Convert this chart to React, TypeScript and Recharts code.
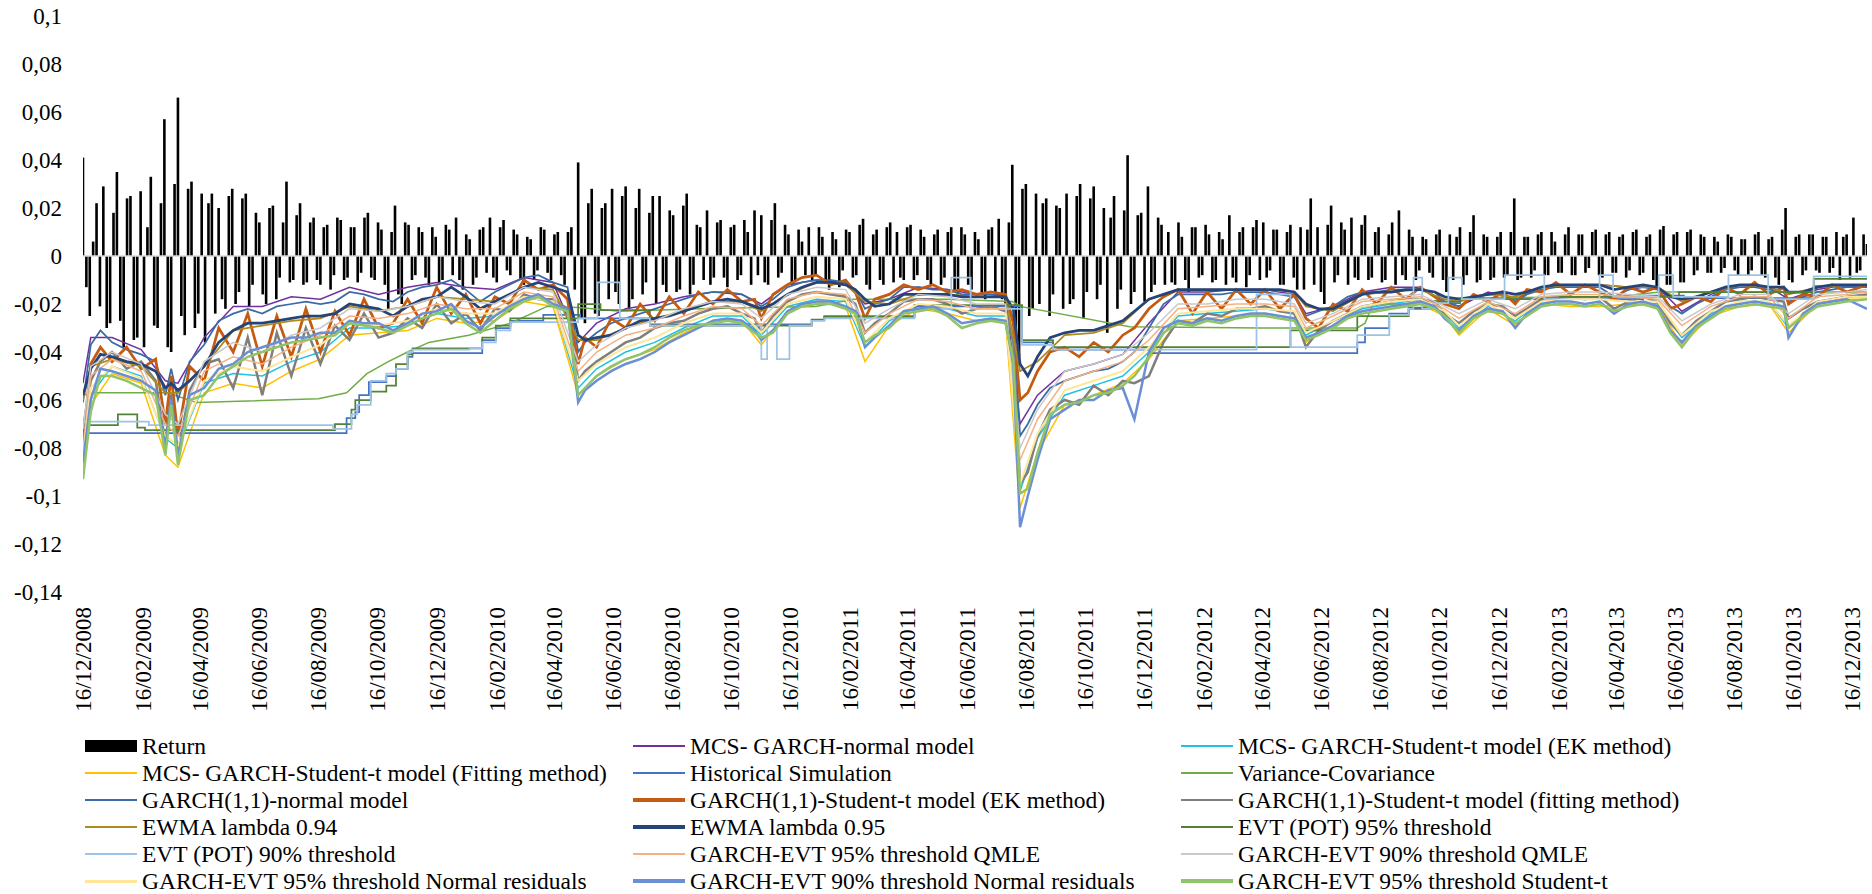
import React from 'react';
import { ComposedChart, Bar, Line, XAxis, YAxis, ReferenceLine } from 'recharts';

const FONT = '"Liberation Serif", "Times New Roman", serif';
const START = Date.UTC(2008, 11, 16);
const DAY_MS = 86400000;
const dayOf = (label: string) => {
  const [dd, mm, yyyy] = label.split('/').map(Number);
  return Math.round((Date.UTC(yyyy, mm - 1, dd) - START) / DAY_MS);
};
const LAST_DAY = dayOf('31/12/2013');

const X_TICK_LABELS = [
  '16/12/2008', '16/02/2009', '16/04/2009', '16/06/2009', '16/08/2009', '16/10/2009',
  '16/12/2009', '16/02/2010', '16/04/2010', '16/06/2010', '16/08/2010', '16/10/2010',
  '16/12/2010', '16/02/2011', '16/04/2011', '16/06/2011', '16/08/2011', '16/10/2011',
  '16/12/2011', '16/02/2012', '16/04/2012', '16/06/2012', '16/08/2012', '16/10/2012',
  '16/12/2012', '16/02/2013', '16/04/2013', '16/06/2013', '16/08/2013', '16/10/2013',
  '16/12/2013',
];
const TICK_DAYS = X_TICK_LABELS.map(dayOf);
const Y_TICKS = [0.1, 0.08, 0.06, 0.04, 0.02, 0, -0.02, -0.04, -0.06, -0.08, -0.1, -0.12, -0.14];

// returns sampled twice a week: start-of-week and mid-week values
const RETURN_STEP_DAYS = 7;
const MIDWEEK_OFFSET = 3.5;
const RETURNS = [
  0.041, -0.025, 0.022, 0.029, -0.028, 0.035, -0.038, 0.025, -0.034, -0.038,
  0.033, -0.030, 0.057, -0.040, 0.066, -0.033, 0.031, -0.024, -0.036, 0.026,
  0.020, -0.022, 0.028, -0.015, 0.026, -0.012, 0.014, -0.020, 0.021, -0.009,
  0.031, -0.010, 0.022, -0.011, 0.016, -0.012, 0.013, -0.008, 0.015, -0.009,
  0.012, -0.007, 0.018, -0.010, 0.011, -0.022, 0.021, -0.020, 0.013, -0.008,
  0.010, -0.012, 0.008, -0.010, 0.011, 0.016, -0.014, 0.007, -0.009, 0.012,
  0.016, -0.011, 0.015, -0.008, 0.009, -0.012, 0.007, -0.006, 0.011, -0.010,
  0.010, -0.012, 0.012, 0.039, -0.028, 0.028, -0.025, 0.022, 0.028, -0.020,
  0.029, -0.018, 0.028, -0.011, 0.025, 0.025, -0.015, 0.017, -0.014, 0.026,
  -0.012, 0.012, 0.019, -0.009, 0.015, -0.013, 0.013, -0.008, 0.010, 0.019,
  0.017, -0.012, 0.022, -0.007, 0.009, -0.010, 0.006, 0.012, -0.008, 0.008,
  -0.014, 0.007, -0.006, 0.010, -0.008, 0.0155, -0.014, 0.011, -0.012, 0.014,
  0.010, -0.010, 0.013, -0.008, 0.008, -0.012, 0.011, -0.009, 0.012, -0.016,
  0.009, -0.014, 0.007, -0.018, 0.012, 0.0155, -0.020, 0.038, -0.042, 0.030,
  -0.022, -0.020, 0.024, -0.016, 0.020, 0.026, -0.018, 0.030, -0.015, 0.029,
  -0.012, -0.032, 0.025, -0.014, 0.042, -0.015, 0.018, 0.029, -0.012, 0.013,
  0.010, -0.012, 0.008, -0.015, 0.012, -0.008, 0.009, -0.010, 0.007, 0.017,
  -0.011, 0.012, -0.008, 0.015, 0.014, -0.006, 0.011, -0.012, 0.013, -0.014,
  -0.014, 0.024, 0.012, -0.020, 0.021, -0.008, 0.011, 0.016, -0.010, 0.017,
  -0.009, 0.012, -0.010, 0.014, 0.019, -0.010, 0.008, -0.006, 0.007, -0.009,
  0.011, -0.015, -0.010, 0.012, -0.008, 0.017, -0.010, 0.008, -0.009, 0.010,
  -0.008, 0.024, -0.009, 0.008, -0.006, 0.010, -0.008, 0.006, -0.007, 0.012,
  -0.008, 0.009, -0.005, 0.011, -0.009, 0.010, -0.007, 0.009, -0.006, 0.011,
  -0.007, 0.009, -0.013, 0.0125, -0.012, 0.010, -0.011, 0.011, -0.006, 0.008,
  -0.007, 0.006, -0.005, 0.008, -0.008, 0.007, -0.006, 0.010, -0.009, 0.008,
  -0.012, 0.020, -0.011, 0.009, -0.006, 0.009, -0.007, 0.008, -0.005, -0.010,
  0.009, 0.016, -0.006, 0.005,
];
const RETURNS_MIDWEEK = [
  -0.013, 0.006, -0.021, -0.030, 0.018, -0.027, 0.024, -0.035, 0.027, 0.012,
  -0.029, 0.022, -0.038, 0.030, -0.025, 0.028, -0.030, 0.026, 0.022, -0.024,
  -0.018, 0.025, -0.020, 0.024, -0.021, 0.018, -0.016, 0.020, -0.018, 0.014,
  -0.011, 0.017, -0.012, 0.014, -0.010, 0.012, -0.014, 0.016, -0.010, 0.012,
  -0.011, 0.016, -0.009, 0.014, -0.012, 0.010, -0.016, 0.014, -0.010, 0.012,
  -0.009, 0.012, -0.011, 0.013, -0.008, -0.010, 0.009, -0.012, 0.011, -0.007,
  -0.009, 0.012, -0.006, 0.011, -0.010, 0.008, -0.010, 0.012, -0.007, 0.009,
  -0.008, 0.010, -0.014, -0.026, 0.022, -0.024, 0.020, -0.018, -0.015, 0.025,
  -0.022, 0.020, -0.016, 0.018, -0.020, -0.012, 0.019, -0.015, 0.021, -0.016,
  0.013, -0.010, -0.012, 0.014, -0.009, 0.012, -0.010, 0.015, -0.012, -0.008,
  -0.011, 0.015, -0.009, 0.013, -0.012, 0.011, -0.008, -0.010, 0.012, -0.011,
  0.010, -0.013, 0.011, -0.009, 0.013, -0.012, 0.009, -0.010, 0.012, -0.011,
  -0.009, 0.012, -0.010, 0.011, -0.010, 0.009, -0.012, 0.010, -0.015, 0.012,
  -0.012, 0.010, -0.016, 0.011, -0.015, -0.018, 0.014, -0.030, 0.028, -0.025,
  0.026, 0.022, -0.025, 0.021, -0.022, -0.020, 0.025, -0.026, 0.024, -0.018,
  0.020, 0.016, -0.022, 0.019, -0.020, 0.017, -0.019, -0.015, 0.016, -0.012,
  -0.011, 0.014, -0.010, 0.012, -0.009, 0.013, -0.011, 0.010, -0.012, -0.009,
  0.010, -0.013, 0.012, -0.010, -0.009, 0.011, -0.012, 0.010, -0.009, 0.012,
  0.011, -0.012, -0.015, 0.013, -0.011, 0.014, -0.012, -0.009, 0.013, -0.010,
  0.010, -0.011, 0.009, -0.012, -0.008, 0.011, -0.010, 0.008, -0.007, 0.009,
  -0.010, 0.009, 0.008, -0.012, 0.010, -0.011, 0.009, -0.010, 0.008, -0.009,
  0.010, -0.010, 0.008, -0.009, 0.009, -0.008, 0.010, -0.007, 0.009, -0.008,
  0.009, -0.007, 0.010, -0.008, 0.009, -0.007, 0.008, -0.009, 0.010, -0.008,
  0.008, -0.010, 0.011, -0.012, 0.009, -0.011, 0.010, -0.008, 0.009, -0.007,
  0.008, -0.007, 0.009, -0.006, 0.007, -0.008, 0.009, -0.008, 0.007, -0.009,
  0.011, -0.010, 0.008, -0.008, 0.009, -0.006, 0.008, -0.007, 0.010, 0.008,
  -0.009, -0.007, 0.009,
];

// sample days (since 16/12/2008) for the main conditional VaR series
const VAR_DAYS = [
  0, 8, 18, 30, 45, 60, 75, 85, 91, 98,
  110, 125, 140, 155, 170, 185, 200, 215, 230, 245,
  260, 275, 290, 305, 320, 335, 350, 365, 380, 395,
  410, 425, 440, 455, 470, 485, 500, 511, 518, 530,
  545, 560, 575, 590, 605, 620, 635, 650, 665, 680,
  693, 700, 712, 727, 742, 757, 772, 787, 797, 807,
  817, 832, 847, 862, 877, 892, 907, 922, 937, 952,
  960, 967, 975, 985, 998, 1013, 1028, 1043, 1058, 1073,
  1085, 1100, 1115, 1130, 1145, 1160, 1175, 1190, 1205, 1220,
  1235, 1250, 1262, 1275, 1290, 1305, 1320, 1335, 1350, 1365,
  1380, 1395, 1405, 1420, 1435, 1450, 1465, 1478, 1490, 1505,
  1520, 1535, 1550, 1565, 1580, 1595, 1610, 1625, 1638, 1650,
  1665, 1680, 1695, 1710, 1725, 1740, 1755, 1760, 1775, 1790,
  1805, 1820, 1841,
];

const EWMA_95 = [
  -0.058, -0.047, -0.041, -0.042, -0.044, -0.045, -0.048, -0.055, -0.053, -0.056,
  -0.052, -0.046, -0.036, -0.031, -0.028, -0.028, -0.027, -0.026, -0.025, -0.025,
  -0.024, -0.020, -0.021, -0.022, -0.025, -0.021, -0.018, -0.017, -0.013, -0.017,
  -0.022, -0.019, -0.016, -0.013, -0.011, -0.013, -0.015, -0.033, -0.035, -0.034,
  -0.033, -0.030, -0.027, -0.026, -0.025, -0.023, -0.021, -0.019, -0.018, -0.019,
  -0.021, -0.022, -0.020, -0.016, -0.013, -0.011, -0.011, -0.012, -0.014, -0.018,
  -0.021, -0.020, -0.016, -0.016, -0.016, -0.016, -0.017, -0.017, -0.017, -0.017,
  -0.022, -0.045, -0.050, -0.042, -0.034, -0.032, -0.031, -0.031, -0.029, -0.027,
  -0.023, -0.018, -0.016, -0.014, -0.014, -0.014, -0.014, -0.014, -0.014, -0.014,
  -0.014, -0.015, -0.020, -0.022, -0.022, -0.019, -0.016, -0.015, -0.015, -0.014,
  -0.014, -0.015, -0.017, -0.018, -0.017, -0.016, -0.015, -0.016, -0.015, -0.013,
  -0.012, -0.012, -0.012, -0.012, -0.014, -0.013, -0.012, -0.013, -0.017, -0.018,
  -0.017, -0.015, -0.013, -0.012, -0.012, -0.013, -0.013, -0.015, -0.015, -0.013,
  -0.012, -0.012, -0.012,
];

const GARCH_NORMAL = [
  -0.061, -0.037, -0.031, -0.036, -0.039, -0.041, -0.044, -0.058, -0.047, -0.060,
  -0.044, -0.037, -0.027, -0.024, -0.022, -0.024, -0.021, -0.020, -0.019, -0.020,
  -0.019, -0.015, -0.016, -0.018, -0.019, -0.015, -0.013, -0.012, -0.010, -0.014,
  -0.019, -0.015, -0.012, -0.009, -0.008, -0.011, -0.013, -0.040, -0.036, -0.032,
  -0.028, -0.026, -0.024, -0.022, -0.020, -0.018, -0.016, -0.015, -0.015, -0.016,
  -0.019, -0.021, -0.018, -0.013, -0.011, -0.010, -0.010, -0.011, -0.014, -0.022,
  -0.020, -0.018, -0.013, -0.013, -0.014, -0.014, -0.016, -0.016, -0.016, -0.017,
  -0.026, -0.075, -0.070, -0.062, -0.055, -0.052, -0.050, -0.048, -0.047, -0.044,
  -0.040, -0.030, -0.020, -0.016, -0.016, -0.016, -0.016, -0.015, -0.015, -0.015,
  -0.016, -0.017, -0.025, -0.023, -0.021, -0.017, -0.015, -0.015, -0.014, -0.014,
  -0.014, -0.015, -0.019, -0.021, -0.017, -0.016, -0.016, -0.019, -0.016, -0.014,
  -0.013, -0.013, -0.013, -0.013, -0.017, -0.014, -0.013, -0.014, -0.021, -0.024,
  -0.020, -0.017, -0.014, -0.013, -0.013, -0.014, -0.015, -0.019, -0.017, -0.015,
  -0.014, -0.013, -0.013,
];

const GARCH_T_EK = [
  -0.078, -0.045, -0.038, -0.044, -0.038, -0.047, -0.043, -0.070, -0.050, -0.075,
  -0.046, -0.052, -0.030, -0.040, -0.024, -0.046, -0.025, -0.042, -0.022, -0.040,
  -0.023, -0.033, -0.018, -0.030, -0.028, -0.018, -0.028, -0.013, -0.024, -0.016,
  -0.028, -0.017, -0.020, -0.010, -0.014, -0.012, -0.018, -0.045, -0.034, -0.038,
  -0.026, -0.030, -0.020, -0.027, -0.017, -0.024, -0.015, -0.020, -0.014, -0.019,
  -0.018, -0.026, -0.016, -0.012, -0.009, -0.008, -0.012, -0.010, -0.015, -0.026,
  -0.018, -0.016, -0.012, -0.014, -0.012, -0.015, -0.014, -0.016, -0.015, -0.016,
  -0.028, -0.060, -0.057, -0.048, -0.040, -0.038, -0.042, -0.036, -0.040, -0.033,
  -0.030, -0.022, -0.017, -0.014, -0.024, -0.015, -0.022, -0.014, -0.020, -0.014,
  -0.022, -0.016, -0.026, -0.030, -0.020, -0.023, -0.014, -0.020, -0.013, -0.018,
  -0.013, -0.017, -0.020, -0.022, -0.016, -0.019, -0.015, -0.020, -0.014, -0.015,
  -0.011, -0.016, -0.012, -0.015, -0.018, -0.013, -0.015, -0.013, -0.022, -0.020,
  -0.017, -0.019, -0.013, -0.016, -0.011, -0.016, -0.013, -0.020, -0.016, -0.017,
  -0.012, -0.015, -0.012,
];

const GARCH_T_FIT = [
  -0.072, -0.052, -0.044, -0.040, -0.047, -0.044, -0.052, -0.078, -0.058, -0.082,
  -0.056, -0.045, -0.043, -0.055, -0.034, -0.058, -0.032, -0.050, -0.030, -0.045,
  -0.029, -0.035, -0.024, -0.034, -0.032, -0.026, -0.030, -0.020, -0.028, -0.024,
  -0.031, -0.022, -0.023, -0.016, -0.018, -0.018, -0.022, -0.052, -0.048, -0.044,
  -0.040, -0.036, -0.034, -0.030, -0.028, -0.027, -0.024, -0.022, -0.021, -0.024,
  -0.026, -0.032, -0.025, -0.019, -0.016, -0.015, -0.016, -0.017, -0.020, -0.032,
  -0.028, -0.024, -0.019, -0.018, -0.018, -0.020, -0.024, -0.022, -0.021, -0.023,
  -0.036, -0.095, -0.090, -0.075, -0.064, -0.060, -0.062, -0.054, -0.058, -0.052,
  -0.053, -0.050, -0.036, -0.027, -0.028, -0.024, -0.025, -0.022, -0.022, -0.021,
  -0.023, -0.024, -0.038, -0.031, -0.027, -0.024, -0.021, -0.020, -0.019, -0.018,
  -0.018, -0.019, -0.024, -0.028, -0.023, -0.020, -0.021, -0.025, -0.022, -0.018,
  -0.017, -0.017, -0.018, -0.017, -0.022, -0.019, -0.017, -0.019, -0.028, -0.033,
  -0.027, -0.023, -0.019, -0.018, -0.017, -0.018, -0.019, -0.026, -0.022, -0.019,
  -0.018, -0.017, -0.016,
];

const GEVT_90_NORMAL = [
  -0.086, -0.060, -0.047, -0.048, -0.050, -0.052, -0.056, -0.080, -0.060, -0.084,
  -0.058, -0.055, -0.047, -0.045, -0.040, -0.038, -0.036, -0.034, -0.034, -0.032,
  -0.032, -0.027, -0.028, -0.028, -0.031, -0.028, -0.024, -0.023, -0.020, -0.027,
  -0.030, -0.025, -0.021, -0.018, -0.016, -0.020, -0.022, -0.061, -0.056, -0.052,
  -0.048, -0.045, -0.043, -0.040, -0.036, -0.033, -0.030, -0.027, -0.026, -0.027,
  -0.031, -0.035, -0.031, -0.023, -0.020, -0.019, -0.019, -0.021, -0.023, -0.038,
  -0.034, -0.029, -0.023, -0.022, -0.021, -0.024, -0.028, -0.027, -0.026, -0.027,
  -0.045, -0.113, -0.100, -0.085, -0.068, -0.064, -0.060, -0.060, -0.056, -0.055,
  -0.068, -0.040, -0.030, -0.027, -0.028, -0.026, -0.027, -0.025, -0.024, -0.024,
  -0.025, -0.026, -0.034, -0.032, -0.029, -0.025, -0.023, -0.022, -0.021, -0.020,
  -0.019, -0.021, -0.026, -0.031, -0.025, -0.022, -0.023, -0.030, -0.024, -0.020,
  -0.019, -0.019, -0.020, -0.019, -0.024, -0.020, -0.019, -0.021, -0.031, -0.036,
  -0.029, -0.025, -0.021, -0.020, -0.019, -0.020, -0.021, -0.034, -0.024, -0.020,
  -0.019, -0.018, -0.022,
];

const GEVT_95_STUDENT = [
  -0.093, -0.065, -0.050, -0.050, -0.052, -0.055, -0.058, -0.083, -0.062, -0.087,
  -0.060, -0.058, -0.050, -0.046, -0.042, -0.040, -0.038, -0.036, -0.035, -0.034,
  -0.033, -0.028, -0.029, -0.030, -0.032, -0.029, -0.026, -0.024, -0.022, -0.028,
  -0.032, -0.027, -0.022, -0.019, -0.017, -0.021, -0.023, -0.058, -0.055, -0.050,
  -0.046, -0.043, -0.041, -0.038, -0.034, -0.031, -0.029, -0.028, -0.027, -0.028,
  -0.032, -0.034, -0.032, -0.024, -0.021, -0.020, -0.020, -0.022, -0.024, -0.036,
  -0.033, -0.030, -0.024, -0.023, -0.022, -0.025, -0.030, -0.028, -0.027, -0.028,
  -0.043, -0.099, -0.097, -0.082, -0.066, -0.062, -0.061, -0.058, -0.057, -0.054,
  -0.050, -0.042, -0.032, -0.028, -0.029, -0.027, -0.028, -0.026, -0.025, -0.025,
  -0.026, -0.027, -0.035, -0.033, -0.030, -0.026, -0.024, -0.023, -0.022, -0.021,
  -0.020, -0.022, -0.025, -0.032, -0.026, -0.023, -0.024, -0.028, -0.025, -0.021,
  -0.020, -0.020, -0.021, -0.020, -0.023, -0.021, -0.020, -0.022, -0.032, -0.038,
  -0.030, -0.026, -0.022, -0.021, -0.020, -0.021, -0.022, -0.030, -0.025, -0.021,
  -0.020, -0.019, -0.018,
];

// coarser sample days for the less visible series
const MINOR_DAYS = [
  0, 8, 30, 60, 85, 98, 125, 155, 185, 215,
  245, 275, 305, 335, 365, 395, 425, 455, 485, 511,
  530, 560, 590, 620, 650, 680, 700, 727, 757, 787,
  807, 832, 862, 892, 922, 952, 967, 985, 1013, 1043,
  1073, 1100, 1130, 1160, 1190, 1220, 1250, 1262, 1290, 1320,
  1350, 1380, 1405, 1420, 1450, 1478, 1505, 1535, 1565, 1595,
  1625, 1650, 1680, 1710, 1740, 1760, 1790, 1820, 1841,
];

const MCS_NORMAL = [
  -0.053, -0.034, -0.034, -0.039, -0.052, -0.053, -0.034, -0.021, -0.021, -0.017,
  -0.018, -0.013, -0.016, -0.013, -0.011, -0.013, -0.014, -0.009, -0.011, -0.036,
  -0.028, -0.022, -0.020, -0.017, -0.015, -0.016, -0.020, -0.012, -0.010, -0.011,
  -0.020, -0.018, -0.013, -0.014, -0.016, -0.016, -0.070, -0.058, -0.048, -0.045,
  -0.041, -0.028, -0.015, -0.015, -0.014, -0.014, -0.016, -0.024, -0.021, -0.015,
  -0.013, -0.013, -0.019, -0.021, -0.015, -0.018, -0.013, -0.012, -0.012, -0.013,
  -0.013, -0.023, -0.016, -0.012, -0.013, -0.018, -0.014, -0.012, -0.012,
];
const MCS_T_EK = [
  -0.075, -0.058, -0.046, -0.050, -0.076, -0.080, -0.053, -0.049, -0.050, -0.044,
  -0.040, -0.030, -0.030, -0.029, -0.024, -0.026, -0.025, -0.017, -0.019, -0.055,
  -0.047, -0.040, -0.036, -0.030, -0.025, -0.025, -0.033, -0.021, -0.018, -0.019,
  -0.038, -0.027, -0.021, -0.022, -0.025, -0.025, -0.098, -0.076, -0.058, -0.054,
  -0.050, -0.040, -0.025, -0.024, -0.023, -0.022, -0.024, -0.033, -0.027, -0.022,
  -0.020, -0.018, -0.024, -0.030, -0.021, -0.027, -0.019, -0.018, -0.018, -0.019,
  -0.020, -0.034, -0.024, -0.019, -0.019, -0.030, -0.019, -0.017, -0.017,
];
const MCS_T_FIT = [
  -0.088, -0.062, -0.049, -0.053, -0.083, -0.088, -0.057, -0.053, -0.055, -0.048,
  -0.043, -0.033, -0.032, -0.031, -0.026, -0.028, -0.027, -0.019, -0.021, -0.058,
  -0.050, -0.043, -0.039, -0.032, -0.027, -0.027, -0.037, -0.023, -0.019, -0.021,
  -0.044, -0.029, -0.022, -0.024, -0.027, -0.027, -0.105, -0.082, -0.062, -0.058,
  -0.053, -0.043, -0.027, -0.026, -0.025, -0.024, -0.026, -0.036, -0.029, -0.023,
  -0.021, -0.020, -0.025, -0.033, -0.022, -0.029, -0.020, -0.021, -0.021, -0.020,
  -0.021, -0.037, -0.025, -0.021, -0.020, -0.032, -0.020, -0.018, -0.018,
];
const EWMA_94 = [
  -0.060, -0.046, -0.043, -0.046, -0.057, -0.057, -0.046, -0.031, -0.029, -0.027,
  -0.026, -0.021, -0.023, -0.021, -0.017, -0.018, -0.019, -0.013, -0.014, -0.035,
  -0.035, -0.030, -0.026, -0.023, -0.019, -0.019, -0.023, -0.016, -0.011, -0.012,
  -0.019, -0.020, -0.016, -0.016, -0.017, -0.017, -0.048, -0.044, -0.033, -0.032,
  -0.028, -0.018, -0.014, -0.014, -0.014, -0.014, -0.015, -0.021, -0.023, -0.016,
  -0.015, -0.014, -0.018, -0.019, -0.016, -0.017, -0.013, -0.012, -0.012, -0.013,
  -0.013, -0.019, -0.015, -0.012, -0.013, -0.016, -0.013, -0.012, -0.012,
];
const GEVT_95_QMLE = [
  -0.080, -0.050, -0.043, -0.048, -0.070, -0.075, -0.048, -0.042, -0.045, -0.038,
  -0.033, -0.025, -0.026, -0.024, -0.020, -0.022, -0.022, -0.015, -0.017, -0.048,
  -0.040, -0.033, -0.030, -0.025, -0.021, -0.022, -0.029, -0.018, -0.015, -0.016,
  -0.032, -0.024, -0.018, -0.019, -0.022, -0.022, -0.085, -0.068, -0.052, -0.048,
  -0.044, -0.035, -0.022, -0.021, -0.020, -0.020, -0.021, -0.030, -0.025, -0.019,
  -0.018, -0.017, -0.022, -0.026, -0.019, -0.024, -0.017, -0.016, -0.016, -0.017,
  -0.018, -0.029, -0.021, -0.017, -0.017, -0.026, -0.017, -0.016, -0.015,
];
const GEVT_90_QMLE = [
  -0.072, -0.046, -0.040, -0.045, -0.066, -0.070, -0.044, -0.036, -0.040, -0.033,
  -0.030, -0.022, -0.023, -0.021, -0.017, -0.019, -0.020, -0.013, -0.015, -0.044,
  -0.037, -0.030, -0.027, -0.022, -0.019, -0.020, -0.026, -0.016, -0.013, -0.014,
  -0.028, -0.022, -0.016, -0.017, -0.020, -0.020, -0.080, -0.064, -0.048, -0.045,
  -0.041, -0.032, -0.020, -0.020, -0.018, -0.018, -0.020, -0.028, -0.024, -0.018,
  -0.017, -0.016, -0.021, -0.024, -0.018, -0.022, -0.016, -0.015, -0.015, -0.016,
  -0.017, -0.027, -0.020, -0.016, -0.016, -0.024, -0.016, -0.015, -0.014,
];
const GEVT_95_NORMAL = [
  -0.084, -0.055, -0.046, -0.051, -0.075, -0.079, -0.052, -0.046, -0.048, -0.042,
  -0.037, -0.028, -0.029, -0.027, -0.022, -0.024, -0.024, -0.017, -0.019, -0.052,
  -0.045, -0.038, -0.034, -0.028, -0.024, -0.024, -0.032, -0.020, -0.017, -0.018,
  -0.036, -0.026, -0.020, -0.021, -0.024, -0.024, -0.095, -0.074, -0.056, -0.052,
  -0.048, -0.038, -0.024, -0.023, -0.022, -0.022, -0.023, -0.032, -0.027, -0.021,
  -0.019, -0.018, -0.023, -0.029, -0.020, -0.026, -0.019, -0.018, -0.018, -0.019,
  -0.019, -0.033, -0.023, -0.019, -0.019, -0.029, -0.019, -0.017, -0.017,
];

// unconditional models: [day, value] at each change
const HIST_SIM: [number, number][] = [
  [0, -0.0738], [272, -0.0675], [281, -0.065], [285, -0.058], [295, -0.0525], [313, -0.05],
  [323, -0.047], [335, -0.042], [340, -0.0405], [412, -0.035], [426, -0.03], [441, -0.027],
  [475, -0.0245], [513, -0.026], [585, -0.0285], [752, -0.0267], [765, -0.0254], [858, -0.021],
  [969, -0.036], [1001, -0.039], [1101, -0.0405], [1315, -0.036], [1323, -0.03], [1348, -0.024],
  [1368, -0.022], [1394, -0.0196], [1421, -0.018], [1610, -0.0165], [1652, -0.0175],
  [1786, -0.0125], [1841, -0.0125],
];
const VAR_COV: [number, number][] = [
  [0, -0.058], [11, -0.057], [87, -0.057], [117, -0.061], [243, -0.0595], [272, -0.057],
  [293, -0.049], [315, -0.044], [335, -0.04], [357, -0.036], [398, -0.033], [441, -0.028],
  [479, -0.021], [511, -0.0215], [554, -0.023], [637, -0.022], [756, -0.021], [795, -0.018],
  [891, -0.018], [959, -0.019], [967, -0.021], [1080, -0.0295], [1215, -0.03], [1315, -0.03],
  [1323, -0.028], [1331, -0.02], [1368, -0.02], [1421, -0.0175], [1581, -0.017], [1627, -0.015],
  [1841, -0.015],
];
const EVT_95: [number, number][] = [
  [0, -0.0705], [36, -0.066], [56, -0.0715], [64, -0.0725], [260, -0.07], [277, -0.064],
  [281, -0.06], [297, -0.0565], [313, -0.054], [323, -0.045], [335, -0.041], [340, -0.0385],
  [412, -0.034], [426, -0.029], [441, -0.026], [511, -0.02], [534, -0.0225], [585, -0.029],
  [752, -0.0265], [765, -0.025], [858, -0.0205], [969, -0.035], [1001, -0.038], [1246, -0.031],
  [1315, -0.025], [1368, -0.0215], [1394, -0.019], [1421, -0.018], [1524, -0.017],
  [1647, -0.015], [1786, -0.0095], [1841, -0.0095],
];
const EVT_90: [number, number][] = [
  [0, -0.069], [68, -0.0705], [258, -0.072], [277, -0.066], [283, -0.062], [297, -0.052],
  [313, -0.049], [323, -0.047], [335, -0.04], [340, -0.039], [399, -0.0385], [412, -0.036],
  [426, -0.031], [441, -0.0275], [511, -0.026], [531, -0.011], [554, -0.026], [585, -0.029],
  [700, -0.043], [706, -0.029], [716, -0.043], [729, -0.029], [752, -0.027], [765, -0.026],
  [858, -0.022], [896, -0.009], [916, -0.022], [969, -0.037], [1001, -0.039], [1211, -0.016],
  [1246, -0.038], [1315, -0.033], [1348, -0.0245], [1368, -0.022], [1373, -0.009], [1382, -0.022],
  [1394, -0.0196], [1409, -0.009], [1423, -0.018], [1467, -0.008], [1508, -0.018], [1565, -0.008],
  [1579, -0.017], [1626, -0.008], [1641, -0.017], [1698, -0.008], [1739, -0.018], [1786, -0.0085],
  [1841, -0.0085],
];

const onDays = (days: number[], vals: number[]) => days.map((d, i) => ({ d, v: vals[i] }));
const fromPairs = (p: [number, number][]) => p.map(([d, v]) => ({ d, v }));

type Series = { name: string; color: string; width: number; legendWidth: number; step?: boolean; data: { d: number; v: number }[] };

const SERIES: Series[] = [
  { name: 'MCS- GARCH-normal model', color: '#7030A0', width: 1.5, legendWidth: 2, data: onDays(MINOR_DAYS, MCS_NORMAL) },
  { name: 'MCS- GARCH-Student-t model (EK method)', color: '#1EC3E3', width: 1.5, legendWidth: 2, data: onDays(MINOR_DAYS, MCS_T_EK) },
  { name: 'MCS- GARCH-Student-t model (Fitting method)', color: '#FFC000', width: 1.5, legendWidth: 2, data: onDays(MINOR_DAYS, MCS_T_FIT) },
  { name: 'Historical Simulation', color: '#4472C4', width: 1.75, legendWidth: 2, step: true, data: fromPairs(HIST_SIM) },
  { name: 'Variance-Covariance', color: '#70AD47', width: 1.5, legendWidth: 2, data: fromPairs(VAR_COV) },
  { name: 'GARCH(1,1)-normal model', color: '#3A6BA5', width: 1.75, legendWidth: 2.5, data: onDays(VAR_DAYS, GARCH_NORMAL) },
  { name: 'GARCH(1,1)-Student-t model (EK method)', color: '#C55A11', width: 2.75, legendWidth: 3.5, data: onDays(VAR_DAYS, GARCH_T_EK) },
  { name: 'GARCH(1,1)-Student-t model (fitting method)', color: '#7F7F7F', width: 2.5, legendWidth: 2, data: onDays(VAR_DAYS, GARCH_T_FIT) },
  { name: 'EWMA lambda 0.94', color: '#AD8A1E', width: 1.75, legendWidth: 2.5, data: onDays(MINOR_DAYS, EWMA_94) },
  { name: 'EWMA lambda 0.95', color: '#264478', width: 2.75, legendWidth: 3.5, data: onDays(VAR_DAYS, EWMA_95) },
  { name: 'EVT (POT) 95% threshold', color: '#548235', width: 1.75, legendWidth: 2, step: true, data: fromPairs(EVT_95) },
  { name: 'EVT (POT) 90% threshold', color: '#9DC3E6', width: 1.75, legendWidth: 2.5, step: true, data: fromPairs(EVT_90) },
  { name: 'GARCH-EVT 95% threshold QMLE', color: '#F4B183', width: 1.5, legendWidth: 2.5, data: onDays(MINOR_DAYS, GEVT_95_QMLE) },
  { name: 'GARCH-EVT 90% threshold QMLE', color: '#C9C9C9', width: 1.5, legendWidth: 2.5, data: onDays(MINOR_DAYS, GEVT_90_QMLE) },
  { name: 'GARCH-EVT 95% threshold Normal residuals', color: '#FFE699', width: 2, legendWidth: 3, data: onDays(MINOR_DAYS, GEVT_95_NORMAL) },
  { name: 'GARCH-EVT 90% threshold Normal residuals', color: '#6A8FD4', width: 2.5, legendWidth: 3.5, data: onDays(VAR_DAYS, GEVT_90_NORMAL) },
  { name: 'GARCH-EVT 95% threshold Student-t', color: '#8FC46A', width: 2.5, legendWidth: 3.5, data: onDays(VAR_DAYS, GEVT_95_STUDENT) },
];

const barData = [
  ...RETURNS.map((r, i) => ({ d: i * RETURN_STEP_DAYS, r })),
  ...RETURNS_MIDWEEK.map((r, i) => ({ d: i * RETURN_STEP_DAYS + MIDWEEK_OFFSET, r })),
].sort((a, b) => a.d - b.d);

const fmtY = (v: number) => String(Number(v.toFixed(2))).replace('.', ',');

// fixed-width column centred on its date
const ReturnBar = (p: any) => {
  const h = Math.abs(p.height || 0);
  const top = (p.height || 0) < 0 ? p.y + p.height : p.y;
  return <rect x={p.x + p.width / 2 - 1.3} y={top} width={2.6} height={h} fill="#000" />;
};

const DateTick = ({ x, y, payload }: any) => (
  <text
    x={x}
    y={y}
    transform={`rotate(-90 ${x} ${y})`}
    textAnchor="end"
    dy="0.34em"
    fontFamily={FONT}
    fontSize={23}
    fill="#000"
  >
    {X_TICK_LABELS[TICK_DAYS.indexOf(payload.value)]}
  </text>
);

const LEGEND_ITEMS = [{ name: 'Return', color: '#000', legendWidth: 12 }, ...SERIES];

function ChartLegend() {
  return (
    <div style={{ position: 'absolute', left: 0, top: 0, fontFamily: FONT, fontSize: 23.5, color: '#000' }}>
      {LEGEND_ITEMS.map((it, i) => {
        const col = i % 3;
        const row = Math.floor(i / 3);
        return (
          <div
            key={it.name}
            style={{
              position: 'absolute',
              left: 85 + col * 548,
              top: 746 + row * 27 - 14,
              height: 28,
              display: 'flex',
              alignItems: 'center',
              whiteSpace: 'nowrap',
            }}
          >
            <span style={{ display: 'inline-block', width: 52, height: it.legendWidth, background: it.color, marginRight: 5 }} />
            <span style={{ lineHeight: '28px' }}>{it.name}</span>
          </div>
        );
      })}
    </div>
  );
}

export default function App() {
  return (
    <div style={{ position: 'absolute', left: 0, top: 0, width: 1872, height: 894, background: '#fff' }}>
      <ComposedChart width={1872} height={722} data={barData} margin={{ top: 16, right: 5, bottom: 0, left: 0 }}>
        <XAxis
          dataKey="d"
          type="number"
          domain={[0, LAST_DAY]}
          ticks={TICK_DAYS}
          interval={0}
          allowDataOverflow
          height={130}
          axisLine={false}
          tickLine={false}
          tickSize={0}
          tickMargin={15}
          tick={<DateTick />}
        />
        <YAxis
          type="number"
          domain={[-0.14, 0.1]}
          ticks={Y_TICKS}
          interval={0}
          allowDataOverflow
          width={83}
          axisLine={false}
          tickLine={false}
          tickSize={0}
          tickMargin={21}
          tickFormatter={fmtY}
          tick={{ fill: '#000', fontSize: 23, fontFamily: FONT }}
        />
        <Bar dataKey="r" fill="#000" barSize={3} shape={<ReturnBar />} isAnimationActive={false} />
        <ReferenceLine y={0} stroke="#D9D9D9" strokeWidth={1.5} />
        {SERIES.map((s) => (
          <Line
            key={s.name}
            data={s.data}
            dataKey="v"
            name={s.name}
            type={s.step ? 'stepAfter' : 'linear'}
            stroke={s.color}
            strokeWidth={s.width}
            dot={false}
            activeDot={false}
            isAnimationActive={false}
          />
        ))}
      </ComposedChart>
      <ChartLegend />
    </div>
  );
}
